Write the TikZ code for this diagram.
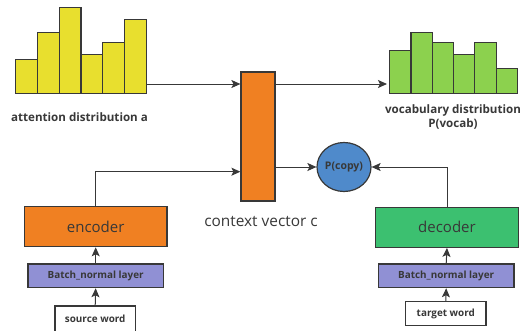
\documentclass[tikz,border=0pt]{standalone}
\usepackage{fontspec}
\setmainfont{Open Sans}
\usetikzlibrary{arrows.meta,shapes.geometric}
\definecolor{barYellow}{HTML}{E8DF2E}
\definecolor{boxOrange}{HTML}{F08022}
\definecolor{barGreen}{HTML}{8CD14E}
\definecolor{boxGreen}{HTML}{3CC070}
\definecolor{boxPurple}{HTML}{9090D4}
\definecolor{nodeBlue}{HTML}{4F8ACB}
\definecolor{ink}{HTML}{383838}
\tikzset{
  outline/.style={draw=ink, line width=1.2pt},
  bar/.style={outline, anchor=south west, inner sep=0pt, minimum width=21.8pt},
  block/.style={outline, inner sep=0pt, text=ink},
  link/.style={draw=ink, line width=1pt, -{Stealth[length=9pt,width=8pt,inset=2pt]}},
  boldsmall/.style={font=\bfseries\fontsize{9.9}{11}\selectfont},
  boldlabel/.style={text=ink, font=\bfseries\fontsize{11.6}{14}\selectfont},
  biglabel/.style={text=ink, font=\fontsize{15.4}{17}\selectfont},
}
\begin{document}
\begin{tikzpicture}[x=1pt,y=-1pt]
\useasboundingbox (0,0) rectangle (521,330);

% attention distribution bars
\foreach \i/\top [count=\k from 0] in {1/60,2/33,3/8,4/55,5/43,6/20}
  \node[bar, fill=barYellow, minimum height={94-\top}] (a\i) at ({15+21.8*\k},94) {};
\node[boldlabel] (alabel) at (79.5,117) {attention distribution a};

% vocabulary distribution bars
\foreach \i/\top [count=\k from 0] in {1/51,2/33,3/43,4/55,5/43,6/69}
  \node[bar, fill=barGreen, minimum width=21.3pt, minimum height={94-\top}] (v\i) at ({389+21.3*\k},94) {};
\node[boldlabel, align=center] (vlabel) at (453,117) {vocabulary distribution\\P(vocab)};

% context vector
\node[block, fill=boxOrange, minimum width=34pt, minimum height=129pt] (ctx) at (258,136.5) {};
\node[biglabel] (ctxlabel) at (261,221) {context vector c};

% copy probability
\node[block, ellipse, fill=nodeBlue, minimum width=54pt, minimum height=49pt, font=\bfseries\fontsize{10.5}{12}\selectfont] (copy) at (344,167) {P(copy)};

% encoder side
\node[block, fill=boxOrange, minimum width=142.7pt, minimum height=40.4pt, font=\fontsize{15}{17}\selectfont] (enc) at (95.7,226.5) {encoder};
\node[block, boldsmall, fill=boxPurple, minimum width=135.3pt, minimum height=23.7pt] (bnl) at (95.7,275.8) {Batch\_normal layer};
\node[block, boldsmall, fill=white, minimum width=80.3pt, minimum height=26pt] (src) at (95.2,319) {source word};

% decoder side
\node[block, fill=boxGreen, minimum width=142.6pt, minimum height=40pt, font=\fontsize{15}{17}\selectfont] (dec) at (447,227.3) {decoder};
\node[block, boldsmall, fill=boxPurple, minimum width=135.7pt, minimum height=23.7pt] (bnr) at (446.2,275.8) {Batch\_normal layer};
\node[block, boldsmall, fill=white, minimum width=80.3pt, minimum height=24pt] (tgt) at (445.8,313.7) {target word};

% connectors
\coordinate (aout) at (a6.east |- 0,84);
\coordinate (vin) at (387,84);
\draw[link] (aout) -- (aout -| ctx.west);
\draw[link] (ctx.east |- vin) -- (vin);
\draw[link] (ctx.east |- copy.west) -- (copy.west);
\draw[link] (dec.north) |- (copy.east);
\draw[link] (enc.north) |- (ctx.west |- 0,171.7);
\draw[link] (src.north) -- (bnl.south);
\draw[link] (bnl.north) -- (enc.south);
\draw[link] (tgt.north) -- (bnr.south);
\draw[link] (bnr.north) -- (dec.south);
\end{tikzpicture}
\end{document}
